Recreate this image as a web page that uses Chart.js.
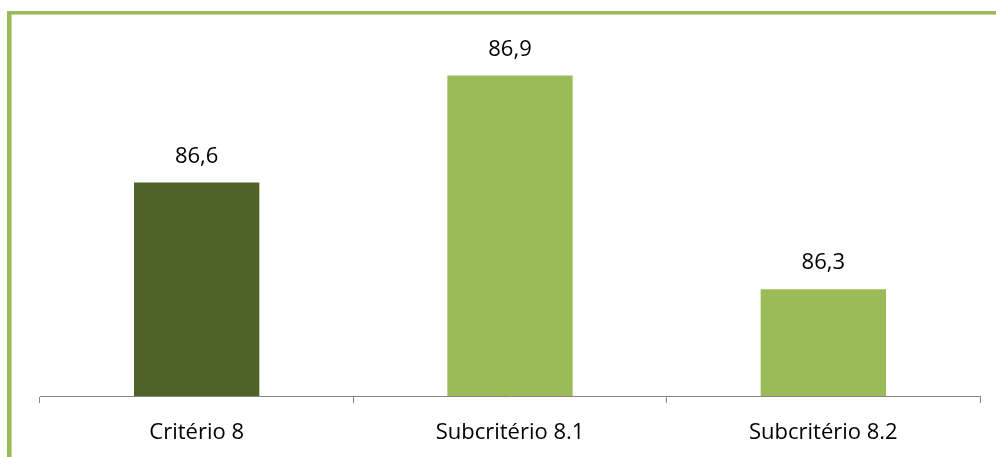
<!DOCTYPE html>
<html>
<head>
<meta charset="utf-8">
<script src="https://cdn.jsdelivr.net/npm/chart.js@4/dist/chart.umd.min.js"></script>
<style>
    html, body { margin: 0; padding: 0; background: #fff; }
    #wrap { position: relative; width: 996px; height: 457px; overflow: hidden; }
    #frame {
        position: absolute; left: 7px; top: 11px; right: -10px; bottom: -10px;
        border-left: 4px solid #9BBB59; border-top: 3px solid #9BBB59;
        box-shadow: inset 1px 1px 0 #C3D69B;
        pointer-events: none;
    }
    canvas { position: absolute; left: 0; top: 0; }
</style>
</head>
<body>
<div id="wrap">
    <canvas id="chart" width="996" height="457"></canvas>
    <div id="frame"></div>
</div>
<script>
const categories = ['Critério 8', 'Subcritério 8.1', 'Subcritério 8.2'];
const values = [86.6, 86.9, 86.3];
const barColors = ['#4F6228', '#9BBB59', '#9BBB59'];

const FONT = '"Open Sans", sans-serif';

function formatValue(v) {
    return v.toFixed(1).replace('.', ',');
}

const valueLabels = {
    id: 'valueLabels',
    afterDatasetsDraw(chart) {
        let ctx = chart.ctx;
        let meta = chart.getDatasetMeta(0);
        ctx.save();
        ctx.font = '22px ' + FONT;
        ctx.fillStyle = '#000';
        ctx.textAlign = 'center';
        ctx.textBaseline = 'middle';
        meta.data.forEach((bar, i) => {
            ctx.fillText(formatValue(values[i]), bar.x, bar.y - 26);
        });
        ctx.restore();
    }
};

new Chart(document.getElementById('chart'), {
    type: 'bar',
    data: {
        labels: categories,
        datasets: [{
            data: values,
            backgroundColor: barColors,
            categoryPercentage: 1.0,
            barPercentage: 0.4
        }]
    },
    options: {
        responsive: false,
        animation: false,
        events: [],
        layout: {
            padding: {left: 40, right: 16, top: 40, bottom: 0}
        },
        plugins: {
            legend: {display: false},
            tooltip: {enabled: false}
        },
        scales: {
            y: {
                display: false,
                min: 86,
                max: 87
            },
            x: {
                offset: true,
                afterFit: (scale) => {
                    scale.height = 61;
                },
                grid: {
                    offset: true,
                    drawOnChartArea: false,
                    drawTicks: true,
                    tickLength: 7,
                    color: '#868686'
                },
                border: {
                    display: true,
                    color: '#868686',
                    width: 1
                },
                ticks: {
                    color: '#000',
                    padding: 17,
                    font: {family: FONT, size: 22}
                }
            }
        }
    },
    plugins: [valueLabels]
});
</script>
</body>
</html>
